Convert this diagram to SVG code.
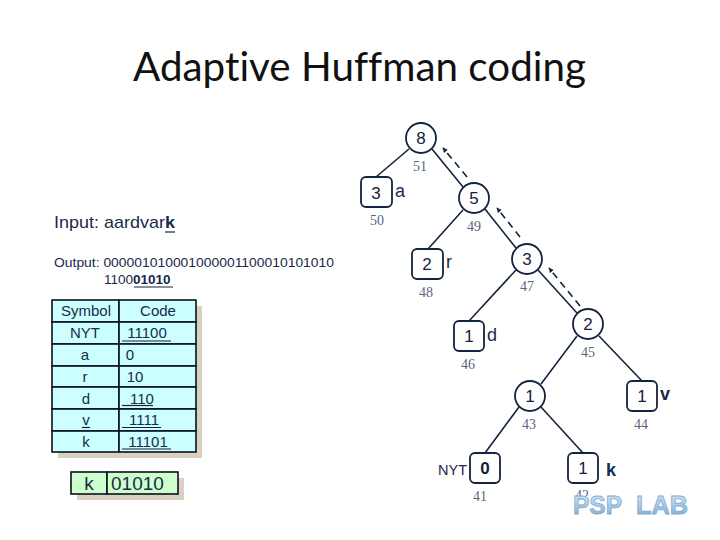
<svg xmlns="http://www.w3.org/2000/svg" width="720" height="540" viewBox="0 0 720 540">
<style>
text{font-family:"Liberation Sans",Arial,sans-serif;fill:#1a2a4a}
.title{font-family:Lato,"Open Sans",sans-serif;font-size:40px;fill:#111;font-variant-ligatures:none}
.t{font-size:15px;text-anchor:middle}
.n{font-size:17px;text-anchor:middle;fill:#14213d}
.num{font-family:"Liberation Serif",serif;font-size:14px;text-anchor:middle;fill:#5a6680}
.lab{font-size:18px;fill:#1a2a4a}
.node{fill:#fff;stroke:#14233f;stroke-width:1.8}
.edge{stroke:#14233f;stroke-width:1.6;fill:none}
.dash{stroke:#14233f;stroke-width:1.6;fill:none;stroke-dasharray:7 5;marker-end:url(#arr)}
.cell{fill:#ccffff;stroke:#0a0f1e;stroke-width:1.6}
.kcell{fill:#ccffcc;stroke:#0a0f1e;stroke-width:1.6}
.ul{stroke:#14233f;stroke-width:1.2}
.psp{font-size:26px;font-weight:bold;fill:url(#pg);stroke:#7fabd2;stroke-width:.8}
</style>
<defs>
<marker id="arr" markerWidth="6" markerHeight="6" refX="4.500" refY="2.500" orient="auto" markerUnits="userSpaceOnUse"><path d="M0 0L5 2.500L0 5Z" fill="#14233f"/></marker>
<linearGradient id="pg" x1="0" y1="0" x2="0" y2="1"><stop offset="0" stop-color="#e4eff8"/><stop offset="1" stop-color="#6fa6d4"/></linearGradient>
</defs>
<text class="title" x="133" y="81" textLength="453" lengthAdjust="spacingAndGlyphs">Adaptive Huffman coding</text>
<g id="input">
<text x="54" y="228" style="font-size:17px" textLength="121" lengthAdjust="spacingAndGlyphs">Input: aardvar<tspan font-weight="bold">k</tspan></text>
<line class="ul" x1="165" y1="232" x2="175" y2="232"/>
</g>
<g id="output">
<text x="54" y="267" style="font-size:13.500px" textLength="280" lengthAdjust="spacingAndGlyphs">Output: 000001010001000001100010101010</text>
<text x="104" y="284" style="font-size:13.500px">1100<tspan font-weight="bold">01010</tspan></text>
<line class="ul" x1="134" y1="287" x2="173" y2="287"/>
</g>
<g id="code-table">
<rect x="58" y="306" width="144" height="152" fill="#d9d2c3"/>
<rect class="cell" x="52" y="300" width="67" height="22"/><rect class="cell" x="119" y="300" width="77" height="22"/>
<rect class="cell" x="52" y="322" width="67" height="22"/><rect class="cell" x="119" y="322" width="77" height="22"/>
<rect class="cell" x="52" y="344" width="67" height="22"/><rect class="cell" x="119" y="344" width="77" height="22"/>
<rect class="cell" x="52" y="366" width="67" height="21"/><rect class="cell" x="119" y="366" width="77" height="21"/>
<rect class="cell" x="52" y="387" width="67" height="22"/><rect class="cell" x="119" y="387" width="77" height="22"/>
<rect class="cell" x="52" y="409" width="67" height="22"/><rect class="cell" x="119" y="409" width="77" height="22"/>
<rect class="cell" x="52" y="431" width="67" height="21"/><rect class="cell" x="119" y="431" width="77" height="21"/>
<text class="t" x="86" y="316">Symbol</text><text class="t" x="158" y="316">Code</text>
<text class="t" x="85" y="338">NYT</text><text class="t" x="147" y="338">11100</text>
<text class="t" x="85" y="360">a</text><text class="t" x="130" y="360">0</text>
<text class="t" x="85" y="382">r</text><text class="t" x="135" y="382">10</text>
<text class="t" x="86" y="404">d</text><text class="t" x="142" y="404">110</text>
<text class="t" x="86" y="425">v</text><text class="t" x="144" y="425">1111</text>
<text class="t" x="86" y="447">k</text><text class="t" x="148" y="447">11101</text>
<line class="ul" x1="122" y1="341" x2="171" y2="341"/>
<line class="ul" x1="122" y1="405.500" x2="153" y2="405.500"/>
<line class="ul" x1="82" y1="427.500" x2="90" y2="427.500"/>
<line class="ul" x1="122" y1="427.500" x2="161" y2="427.500"/>
<line class="ul" x1="122" y1="449" x2="171" y2="449"/>
</g>
<g id="k-code">
<rect x="77" y="478" width="107" height="22" fill="#d9d2c3"/>
<rect class="kcell" x="71" y="472" width="36" height="22"/><rect class="kcell" x="107" y="472" width="71" height="22"/>
<text x="89" y="490" style="font-size:19px;text-anchor:middle">k</text>
<text x="111" y="490" style="font-size:19px">01010</text>
</g>
<g id="connectors">
<line class="edge" x1="409" y1="149" x2="376" y2="177"/>
<line class="edge" x1="432" y1="149" x2="463" y2="187"/>
<line class="edge" x1="463" y1="210" x2="428" y2="249"/>
<line class="edge" x1="485" y1="209" x2="516" y2="248"/>
<line class="edge" x1="516" y1="270" x2="469" y2="321"/>
<line class="edge" x1="538" y1="270" x2="577" y2="313"/>
<line class="edge" x1="577" y1="336" x2="541" y2="384"/>
<line class="edge" x1="599" y1="336" x2="642" y2="381"/>
<line class="edge" x1="519" y1="407" x2="485" y2="453"/>
<line class="edge" x1="541" y1="407" x2="583" y2="453"/>
<line class="dash" x1="467" y1="177" x2="443" y2="148"/>
<line class="dash" x1="520" y1="237" x2="497" y2="208"/>
<line class="dash" x1="580" y1="306" x2="549" y2="268"/>
</g>
<g id="n51"><circle class="node" cx="421" cy="138" r="15"/><text class="n" x="421" y="144">8</text><text class="num" x="420" y="171">51</text></g>
<g id="n50"><rect class="node" x="361" y="177" width="31" height="30" rx="5"/><text class="n" x="376" y="199">3</text><text class="lab" x="395" y="197">a</text><text class="num" x="377" y="225">50</text></g>
<g id="n49"><circle class="node" cx="474" cy="198" r="15"/><text class="n" x="474" y="204">5</text><text class="num" x="474" y="231">49</text></g>
<g id="n48"><rect class="node" x="412" y="249" width="31" height="30" rx="5"/><text class="n" x="427" y="270">2</text><text class="lab" x="446" y="268">r</text><text class="num" x="426" y="297">48</text></g>
<g id="n47"><circle class="node" cx="527" cy="259" r="15"/><text class="n" x="527" y="265">3</text><text class="num" x="527" y="291">47</text></g>
<g id="n46"><rect class="node" x="454" y="321" width="30" height="30" rx="5"/><text class="n" x="469" y="342">1</text><text class="lab" x="487" y="341">d</text><text class="num" x="468" y="369">46</text></g>
<g id="n45"><circle class="node" cx="588" cy="324" r="15"/><text class="n" x="588" y="330">2</text><text class="num" x="588" y="357">45</text></g>
<g id="n44"><rect class="node" x="627" y="381" width="30" height="30" rx="5"/><text class="n" x="642" y="402">1</text><text class="lab" x="660" y="400" font-weight="bold">v</text><text class="num" x="641" y="429">44</text></g>
<g id="n43"><circle class="node" cx="530" cy="396" r="15"/><text class="n" x="530" y="402">1</text><text class="num" x="529" y="429">43</text></g>
<g id="n41"><rect class="node" x="470" y="453" width="30" height="30" rx="5"/><text class="n" x="485" y="474" font-weight="bold">0</text><text style="font-size:14.500px" x="438" y="475">NYT</text><text class="num" x="480" y="501">41</text></g>
<g id="n42"><rect class="node" x="568" y="453" width="30" height="30" rx="5"/><text class="n" x="583" y="474">1</text><text class="lab" x="606" y="476" font-weight="bold">k</text><text class="num" x="582" y="500">42</text></g>
<g id="logo"><text class="psp" x="573" y="514" textLength="49" lengthAdjust="spacingAndGlyphs">PSP</text><text class="psp" x="636" y="514" textLength="52" lengthAdjust="spacingAndGlyphs">LAB</text></g>
</svg>
